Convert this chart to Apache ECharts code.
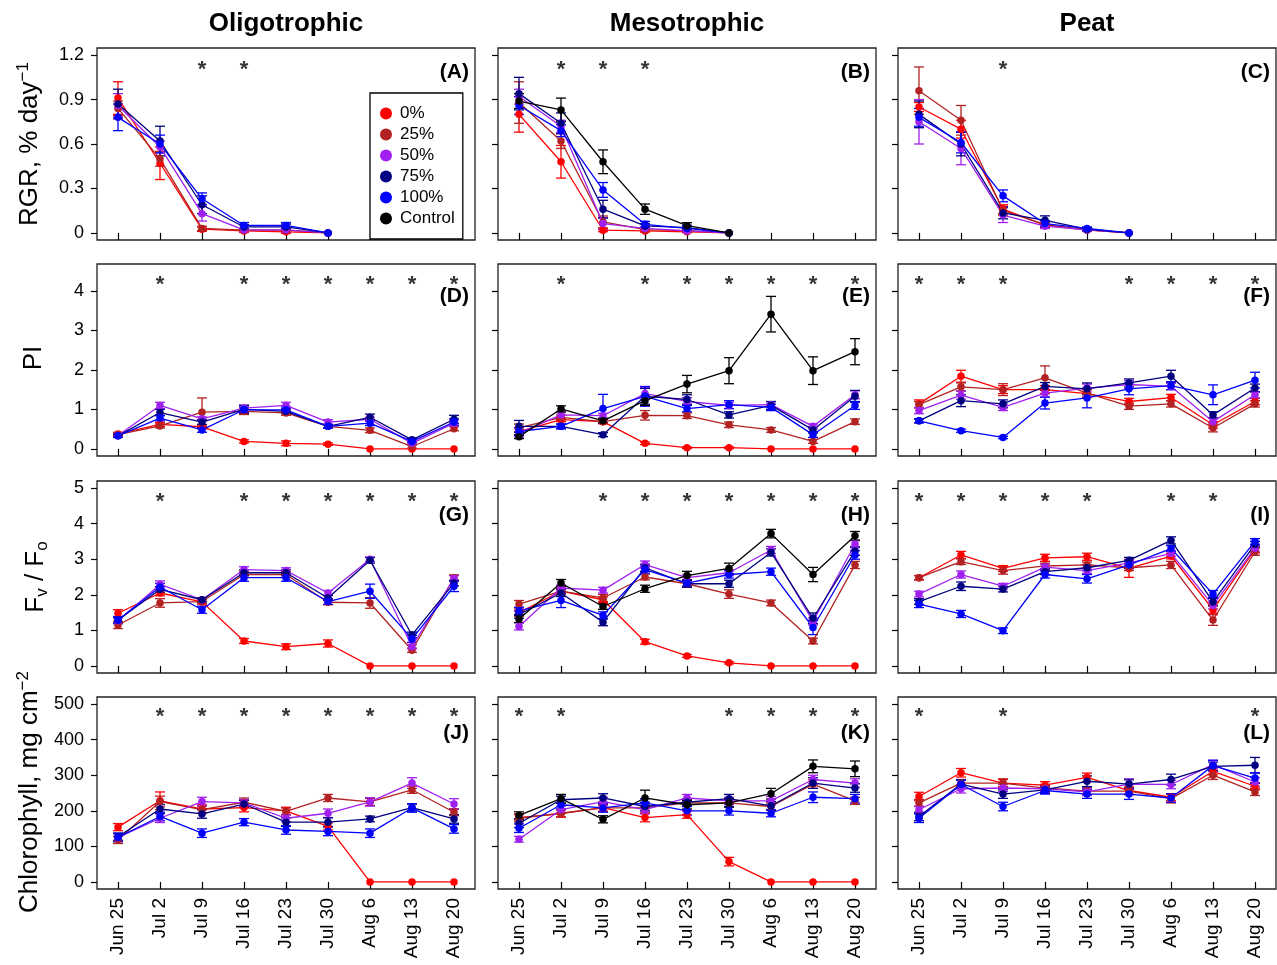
<!DOCTYPE html>
<html>
<head>
<meta charset="UTF-8"/>
<script src="https://cdn.jsdelivr.net/npm/echarts@6/dist/echarts.min.js"></script>
<title>RGR, PI, Fv/Fo, Chlorophyll</title>
<style>html,body{margin:0;background:#fff}#main{width:1277px;height:965px}</style>
</head>
<body>
<div id="main"></div>
<script>
var dates = ['Jun 25', 'Jul 2', 'Jul 9', 'Jul 16', 'Jul 23', 'Jul 30', 'Aug 6', 'Aug 13', 'Aug 20'];
var treatments = ['0%', '25%', '50%', '75%', '100%', 'Control'];

// tick labels per row
var rgrTicks = [0, 0.3, 0.6, 0.9, 1.2];
var piTicks = [0, 1, 2, 3, 4];
var fvTicks = [0, 1, 2, 3, 4, 5];
var chlTicks = [0, 100, 200, 300, 400, 500];

// rows of each array: 0%, 25%, 50%, 75%, 100%, (Control)
var rgrOligo = [
    [0.91, 0.47, 0.025, 0.013, 0.007, 0, null, null, null],
    [0.84, 0.50, 0.03, 0.018, 0.018, 0, null, null, null],
    [0.86, 0.58, 0.13, 0.02, 0.02, 0, null, null, null],
    [0.87, 0.62, 0.19, 0.04, 0.04, 0, null, null, null],
    [0.78, 0.60, 0.23, 0.05, 0.05, 0, null, null, null]
];
var rgrOligoErr = [
    [0.11, 0.11, 0.015, 0.01, 0.01, 0],
    [0.05, 0.05, 0.015, 0.01, 0.01, 0],
    [0.08, 0.04, 0.05, 0.01, 0.015, 0],
    [0.10, 0.10, 0.06, 0.015, 0.02, 0],
    [0.09, 0.06, 0.04, 0.02, 0.02, 0]
];
var rgrMeso = [
    [0.80, 0.48, 0.018, 0.013, 0.007, 0, null, null, null],
    [0.88, 0.62, 0.074, 0.022, 0.015, 0, null, null, null],
    [0.92, 0.72, 0.063, 0.03, 0.013, 0, null, null, null],
    [0.94, 0.74, 0.16, 0.047, 0.036, 0, null, null, null],
    [0.86, 0.69, 0.29, 0.058, 0.03, 0, null, null, null],
    [0.89, 0.83, 0.48, 0.16, 0.049, 0, null, null, null]
];
var rgrMesoErr = [
    [0.12, 0.11, 0.01, 0.008, 0.005, 0],
    [0.14, 0.05, 0.04, 0.01, 0.01, 0],
    [0.05, 0.04, 0.04, 0.01, 0.01, 0],
    [0.11, 0.07, 0.06, 0.015, 0.015, 0],
    [0.06, 0.04, 0.05, 0.02, 0.015, 0],
    [0.05, 0.08, 0.08, 0.035, 0.02, 0]
];
var rgrPeat = [
    [0.85, 0.70, 0.16, 0.052, 0.02, 0, null, null, null],
    [0.96, 0.76, 0.15, 0.056, 0.02, 0, null, null, null],
    [0.75, 0.57, 0.12, 0.045, 0.02, 0, null, null, null],
    [0.80, 0.60, 0.135, 0.085, 0.025, 0, null, null, null],
    [0.78, 0.61, 0.25, 0.063, 0.03, 0, null, null, null]
];
var rgrPeatErr = [
    [0.03, 0.06, 0.03, 0.015, 0.01, 0],
    [0.16, 0.10, 0.03, 0.015, 0.01, 0],
    [0.15, 0.11, 0.05, 0.015, 0.01, 0],
    [0.09, 0.08, 0.04, 0.03, 0.01, 0],
    [0.06, 0.07, 0.04, 0.02, 0.01, 0]
];

var piOligo = [
    [0.38, 0.62, 0.56, 0.19, 0.14, 0.12, 0, 0, 0],
    [0.36, 0.58, 0.93, 0.95, 0.91, 0.57, 0.47, 0.06, 0.51],
    [0.34, 1.10, 0.76, 1.03, 1.10, 0.68, 0.75, 0.14, 0.65],
    [0.33, 0.92, 0.68, 1.00, 0.95, 0.57, 0.80, 0.23, 0.75],
    [0.33, 0.78, 0.48, 0.99, 0.99, 0.57, 0.65, 0.19, 0.68]
];
var piOligoErr = [
    [0.04, 0.05, 0.05, 0.04, 0.06, 0.03, 0, 0, 0],
    [0.04, 0.05, 0.36, 0.08, 0.06, 0.05, 0.06, 0.04, 0.05],
    [0.04, 0.08, 0.05, 0.08, 0.08, 0.06, 0.05, 0.04, 0.08],
    [0.04, 0.08, 0.06, 0.10, 0.06, 0.04, 0.08, 0.04, 0.10],
    [0.04, 0.07, 0.06, 0.07, 0.07, 0.05, 0.06, 0.04, 0.08]
];
var piMeso = [
    [0.44, 0.74, 0.69, 0.14, 0.03, 0.03, 0, 0, 0],
    [0.53, 0.80, 0.69, 0.85, 0.84, 0.61, 0.48, 0.19, 0.69],
    [0.40, 0.86, 0.84, 1.40, 1.20, 1.10, 1.12, 0.57, 1.37],
    [0.57, 0.57, 0.36, 1.33, 1.25, 0.86, 1.10, 0.48, 1.33],
    [0.44, 0.57, 1.02, 1.33, 1.02, 1.12, 1.05, 0.36, 1.10],
    [0.31, 1.01, 0.71, 1.22, 1.64, 1.98, 3.41, 1.98, 2.46]
];
var piMesoErr = [
    [0.10, 0.05, 0.05, 0.03, 0.02, 0.02, 0, 0, 0],
    [0.10, 0.06, 0.05, 0.12, 0.07, 0.07, 0.06, 0.05, 0.07],
    [0.10, 0.08, 0.06, 0.15, 0.10, 0.08, 0.07, 0.06, 0.10],
    [0.15, 0.06, 0.05, 0.20, 0.12, 0.08, 0.10, 0.08, 0.15],
    [0.10, 0.06, 0.36, 0.25, 0.08, 0.10, 0.08, 0.07, 0.10],
    [0.05, 0.08, 0.06, 0.12, 0.22, 0.33, 0.45, 0.35, 0.33]
];
var piPeat = [
    [1.14, 1.84, 1.50, 1.50, 1.40, 1.20, 1.30, 0.61, 1.20],
    [1.12, 1.57, 1.50, 1.80, 1.41, 1.08, 1.14, 0.53, 1.14],
    [0.97, 1.36, 1.05, 1.41, 1.54, 1.63, 1.58, 0.69, 1.37],
    [0.71, 1.22, 1.14, 1.58, 1.52, 1.67, 1.84, 0.86, 1.54],
    [0.71, 0.46, 0.29, 1.16, 1.29, 1.52, 1.60, 1.37, 1.74]
];
var piPeatErr = [
    [0.10, 0.15, 0.10, 0.10, 0.10, 0.08, 0.08, 0.08, 0.08],
    [0.08, 0.10, 0.15, 0.30, 0.10, 0.08, 0.08, 0.10, 0.08],
    [0.08, 0.10, 0.08, 0.10, 0.10, 0.10, 0.08, 0.10, 0.08],
    [0.05, 0.15, 0.10, 0.10, 0.15, 0.10, 0.15, 0.08, 0.10],
    [0.05, 0.04, 0.03, 0.15, 0.25, 0.15, 0.10, 0.25, 0.20]
];

var fvOligo = [
    [1.48, 2.05, 1.80, 0.70, 0.54, 0.63, 0, 0, 0],
    [1.15, 1.77, 1.81, 2.57, 2.57, 1.79, 1.77, 0.44, 2.48],
    [1.27, 2.29, 1.86, 2.71, 2.68, 2.05, 3.00, 0.54, 2.46],
    [1.29, 2.15, 1.86, 2.62, 2.62, 1.91, 2.97, 0.87, 2.33],
    [1.29, 2.22, 1.58, 2.48, 2.48, 1.81, 2.10, 0.76, 2.24]
];
var fvOligoErr = [
    [0.10, 0.08, 0.06, 0.07, 0.08, 0.10, 0, 0, 0],
    [0.10, 0.12, 0.06, 0.08, 0.08, 0.07, 0.15, 0.06, 0.08],
    [0.08, 0.10, 0.06, 0.08, 0.08, 0.07, 0.06, 0.06, 0.08],
    [0.08, 0.08, 0.06, 0.08, 0.08, 0.07, 0.08, 0.08, 0.08],
    [0.10, 0.10, 0.10, 0.10, 0.10, 0.08, 0.20, 0.10, 0.15]
];
var fvMeso = [
    [1.50, 2.10, 1.86, 0.68, 0.28, 0.085, 0, 0, 0],
    [1.74, 2.10, 1.91, 2.50, 2.31, 2.02, 1.77, 0.70, 2.84],
    [1.11, 2.19, 2.13, 2.85, 2.48, 2.62, 3.26, 1.25, 3.42],
    [1.44, 2.05, 1.23, 2.76, 2.31, 2.31, 3.19, 1.34, 3.23],
    [1.55, 1.84, 1.42, 2.71, 2.33, 2.57, 2.65, 1.08, 3.12],
    [1.32, 2.33, 1.67, 2.17, 2.54, 2.74, 3.72, 2.57, 3.66]
];
var fvMesoErr = [
    [0.10, 0.08, 0.08, 0.07, 0.04, 0.03, 0, 0, 0],
    [0.10, 0.08, 0.10, 0.08, 0.08, 0.12, 0.08, 0.08, 0.10],
    [0.10, 0.08, 0.08, 0.10, 0.08, 0.08, 0.10, 0.10, 0.10],
    [0.10, 0.10, 0.10, 0.10, 0.10, 0.10, 0.10, 0.15, 0.12],
    [0.10, 0.20, 0.10, 0.10, 0.08, 0.10, 0.10, 0.20, 0.12],
    [0.10, 0.10, 0.08, 0.10, 0.12, 0.15, 0.12, 0.20, 0.12]
];
var fvPeat = [
    [2.48, 3.12, 2.74, 3.04, 3.07, 2.74, 3.09, 1.58, 3.28],
    [2.48, 2.93, 2.68, 2.81, 2.84, 2.76, 2.84, 1.29, 3.21],
    [2.02, 2.57, 2.24, 2.78, 2.68, 2.90, 3.16, 1.70, 3.31],
    [1.81, 2.24, 2.16, 2.65, 2.76, 2.97, 3.53, 1.80, 3.42],
    [1.74, 1.46, 0.99, 2.57, 2.45, 2.84, 3.30, 2.02, 3.50]
];
var fvPeatErr = [
    [0.06, 0.10, 0.08, 0.10, 0.10, 0.25, 0.08, 0.10, 0.10],
    [0.06, 0.08, 0.10, 0.08, 0.08, 0.08, 0.10, 0.15, 0.10],
    [0.08, 0.10, 0.08, 0.08, 0.08, 0.08, 0.08, 0.10, 0.08],
    [0.08, 0.12, 0.08, 0.08, 0.08, 0.08, 0.10, 0.10, 0.08],
    [0.10, 0.10, 0.08, 0.10, 0.12, 0.10, 0.08, 0.10, 0.08]
];

var chlOligo = [
    [154, 228, 205, 209, 200, 156, 0, 0, 0],
    [118, 226, 203, 224, 198, 236, 225, 259, 196],
    [125, 179, 226, 222, 179, 193, 225, 278, 219],
    [127, 205, 191, 219, 168, 168, 177, 209, 177],
    [125, 184, 137, 168, 146, 142, 137, 208, 149]
];
var chlOligoErr = [
    [10, 25, 12, 12, 10, 10, 0, 0, 0],
    [10, 15, 10, 12, 10, 10, 10, 10, 10],
    [10, 12, 12, 10, 10, 12, 12, 15, 15],
    [10, 12, 12, 10, 12, 12, 8, 10, 12],
    [12, 12, 12, 10, 12, 12, 12, 12, 12]
];
var chlMeso = [
    [181, 192, 209, 181, 189, 57, 0, 0, 0],
    [179, 193, 208, 208, 222, 222, 212, 275, 228],
    [120, 203, 226, 203, 236, 228, 228, 288, 278],
    [165, 231, 236, 212, 224, 234, 214, 278, 264],
    [151, 217, 208, 222, 200, 200, 193, 238, 234],
    [187, 234, 176, 236, 217, 222, 248, 325, 318]
];
var chlMesoErr = [
    [10, 10, 10, 12, 10, 12, 0, 0, 0],
    [10, 10, 10, 12, 10, 10, 10, 12, 10],
    [8, 10, 12, 12, 10, 10, 12, 12, 12],
    [12, 10, 12, 12, 10, 12, 12, 15, 12],
    [12, 12, 12, 12, 12, 12, 10, 15, 12],
    [10, 12, 10, 22, 12, 12, 15, 18, 22]
];
var chlPeat = [
    [240, 307, 278, 272, 294, 257, 238, 311, 269],
    [222, 278, 278, 264, 255, 255, 234, 300, 253],
    [203, 262, 264, 262, 253, 275, 274, 330, 281],
    [184, 275, 247, 259, 283, 275, 288, 325, 328],
    [179, 274, 212, 257, 247, 247, 236, 327, 292]
];
var chlPeatErr = [
    [12, 12, 10, 10, 12, 10, 10, 10, 10],
    [10, 10, 12, 10, 10, 10, 12, 12, 10],
    [10, 12, 10, 10, 10, 15, 12, 12, 12],
    [12, 12, 12, 10, 15, 12, 15, 12, 22],
    [12, 12, 12, 10, 12, 15, 12, 15, 15]
];

// dates (index) with a significant difference (*)
var starsA = [2, 3];
var starsB = [1, 2, 3];
var starsC = [2];
var starsD = [1, 3, 4, 5, 6, 7, 8];
var starsE = [1, 3, 4, 5, 6, 7, 8];
var starsF = [0, 1, 2, 5, 6, 7, 8];
var starsG = [1, 3, 4, 5, 6, 7, 8];
var starsH = [2, 3, 4, 5, 6, 7, 8];
var starsI = [0, 1, 2, 3, 4, 6, 7];
var starsJ = [1, 2, 3, 4, 5, 6, 7, 8];
var starsK = [0, 1, 5, 6, 7, 8];
var starsL = [0, 2, 8];

var colors = ['#ff0000', '#b22222', '#a020f0', '#000080', '#0000ff', '#000000'];
var FONT = '"Liberation Sans", Arial, sans-serif';

var colLeft = [97, 498, 898];
var rowTop = [48, 264, 481, 697];
var panelW = 378, panelH = 192;
var tagDy = [24, 32, 34, 36];

// y range padded 4% like R
var rowAxes = [
    {min: -0.048, max: 1.248, ticks: rgrTicks, starY: 1.142},
    {min: -0.18, max: 4.68, ticks: piTicks, starY: 4.30},
    {min: -0.2, max: 5.2, ticks: fvTicks, starY: 4.79},
    {min: -20, max: 520, ticks: chlTicks, starY: 481}
];

var panels = [
    [rgrOligo, rgrOligoErr, starsA, '(A)'], [rgrMeso, rgrMesoErr, starsB, '(B)'], [rgrPeat, rgrPeatErr, starsC, '(C)'],
    [piOligo, piOligoErr, starsD, '(D)'], [piMeso, piMesoErr, starsE, '(E)'], [piPeat, piPeatErr, starsF, '(F)'],
    [fvOligo, fvOligoErr, starsG, '(G)'], [fvMeso, fvMesoErr, starsH, '(H)'], [fvPeat, fvPeatErr, starsI, '(I)'],
    [chlOligo, chlOligoErr, starsJ, '(J)'], [chlMeso, chlMesoErr, starsK, '(K)'], [chlPeat, chlPeatErr, starsL, '(L)']
];

function renderErr(params, api) {
    var k = api.value(0);
    var lo = api.coord([k, api.value(1)]);
    var hi = api.coord([k, api.value(2)]);
    var w = 5;
    var st = {stroke: api.visual('color'), lineWidth: 1.3};
    return {
        type: 'group', children: [
            {type: 'line', shape: {x1: lo[0], y1: lo[1], x2: hi[0], y2: hi[1]}, style: st},
            {type: 'line', shape: {x1: lo[0] - w, y1: lo[1], x2: lo[0] + w, y2: lo[1]}, style: st},
            {type: 'line', shape: {x1: hi[0] - w, y1: hi[1], x2: hi[0] + w, y2: hi[1]}, style: st}
        ]
    };
}

var grids = [], xAxes = [], yAxes = [], series = [], graphics = [];

panels.forEach(function (p, i) {
    var r = Math.floor(i / 3), c = i % 3;
    var ax = rowAxes[r];
    grids.push({
        left: colLeft[c], top: rowTop[r], width: panelW, height: panelH,
        show: true, borderColor: '#222', borderWidth: 1.3
    });
    xAxes.push({
        gridIndex: i, type: 'category', data: dates, boundaryGap: true,
        axisLine: {show: false},
        axisTick: {show: true, alignWithLabel: true, interval: 0, length: 7, lineStyle: {color: '#000', width: 1.2}},
        axisLabel: {show: r === 3, interval: 0, rotate: 90, fontSize: 19, color: '#000', margin: 9, fontFamily: FONT},
        splitLine: {show: false}
    });
    yAxes.push({
        gridIndex: i, type: 'value', min: ax.min, max: ax.max,
        axisLine: {show: false}, splitLine: {show: false},
        axisTick: {show: true, length: 6, customValues: ax.ticks, lineStyle: {color: '#000', width: 1.2}},
        axisLabel: {show: c === 0, customValues: ax.ticks, fontSize: 18, color: '#000', margin: 13, fontFamily: FONT}
    });

    var mean = p[0], err = p[1];
    mean.forEach(function (vals, j) {
        var bars = [];
        vals.forEach(function (v, k) {
            if (v != null && err[j][k] > 0) bars.push([k, v - err[j][k], v + err[j][k]]);
        });
        series.push({
            type: 'custom', name: treatments[j] + ' err', xAxisIndex: i, yAxisIndex: i,
            itemStyle: {color: colors[j]}, renderItem: renderErr, data: bars,
            encode: {x: 0, y: [1, 2]}, silent: true, clip: false
        });
        series.push({
            type: 'line', name: treatments[j], xAxisIndex: i, yAxisIndex: i, data: vals,
            symbol: 'circle', symbolSize: 7.5, showSymbol: true,
            itemStyle: {color: colors[j]}, lineStyle: {color: colors[j], width: 1.3},
            silent: true, animation: false
        });
    });

    series.push({
        type: 'scatter', xAxisIndex: i, yAxisIndex: i, silent: true,
        data: p[2].map(function (k) { return [k, ax.starY]; }),
        symbolSize: 1, itemStyle: {color: 'rgba(0,0,0,0)'},
        label: {show: true, formatter: '*', position: 'inside', fontSize: 22, fontWeight: 'bold', color: '#000', offset: [0, 6], fontFamily: FONT}
    });

    graphics.push({
        type: 'text', x: colLeft[c] + panelW - 6, y: rowTop[r] + tagDy[r],
        style: {text: p[3], font: 'bold 21px ' + FONT, fill: '#000', textAlign: 'right', textVerticalAlign: 'middle'}
    });
});

var colTitles = ['Oligotrophic', 'Mesotrophic', 'Peat'];
colTitles.forEach(function (t, c) {
    graphics.push({
        type: 'text', x: colLeft[c] + panelW / 2, y: 24,
        style: {text: t, font: 'bold 26px ' + FONT, fill: '#000', textAlign: 'center', textVerticalAlign: 'middle'}
    });
});

var yTitles = [
    {text: '{a|RGR, % day}{s|\u22121}', x: 30, y: 144},
    {text: '{a|PI}', x: 34, y: 358},
    {text: '{a|F}{b|v}{a| / F}{b|o}', x: 36, y: 577},
    {text: '{a|Chlorophyll, mg cm}{s|\u22122}', x: 30, y: 792}
];
yTitles.forEach(function (t) {
    graphics.push({
        type: 'text', x: t.x, y: t.y, rotation: Math.PI / 2,
        style: {
            text: t.text, fill: '#000', align: 'center', verticalAlign: 'middle',
            rich: {
                a: {fontSize: 26, fontFamily: FONT, lineHeight: 30, fill: '#000'},
                s: {fontSize: 17, fontFamily: FONT, lineHeight: 17, verticalAlign: 'top', fill: '#000'},
                b: {fontSize: 17, fontFamily: FONT, lineHeight: 17, verticalAlign: 'bottom', fill: '#000'}
            }
        }
    });
});

var myChart = echarts.init(document.getElementById('main'));
myChart.setOption({
    animation: false,
    backgroundColor: '#fff',
    grid: grids,
    xAxis: xAxes,
    yAxis: yAxes,
    legend: {
        data: treatments, orient: 'vertical', left: 370, top: 93,
        icon: 'circle', itemWidth: 12, itemHeight: 12, itemGap: 4,
        padding: [12, 8, 12, 10], borderColor: '#000', borderWidth: 1.3,
        backgroundColor: '#fff', selectedMode: false, z: 10,
        textStyle: {fontSize: 17, color: '#000', fontFamily: FONT, lineHeight: 17, padding: [0, 0, 0, 3]}
    },
    graphic: graphics,
    series: series
});
</script>
</body>
</html>
